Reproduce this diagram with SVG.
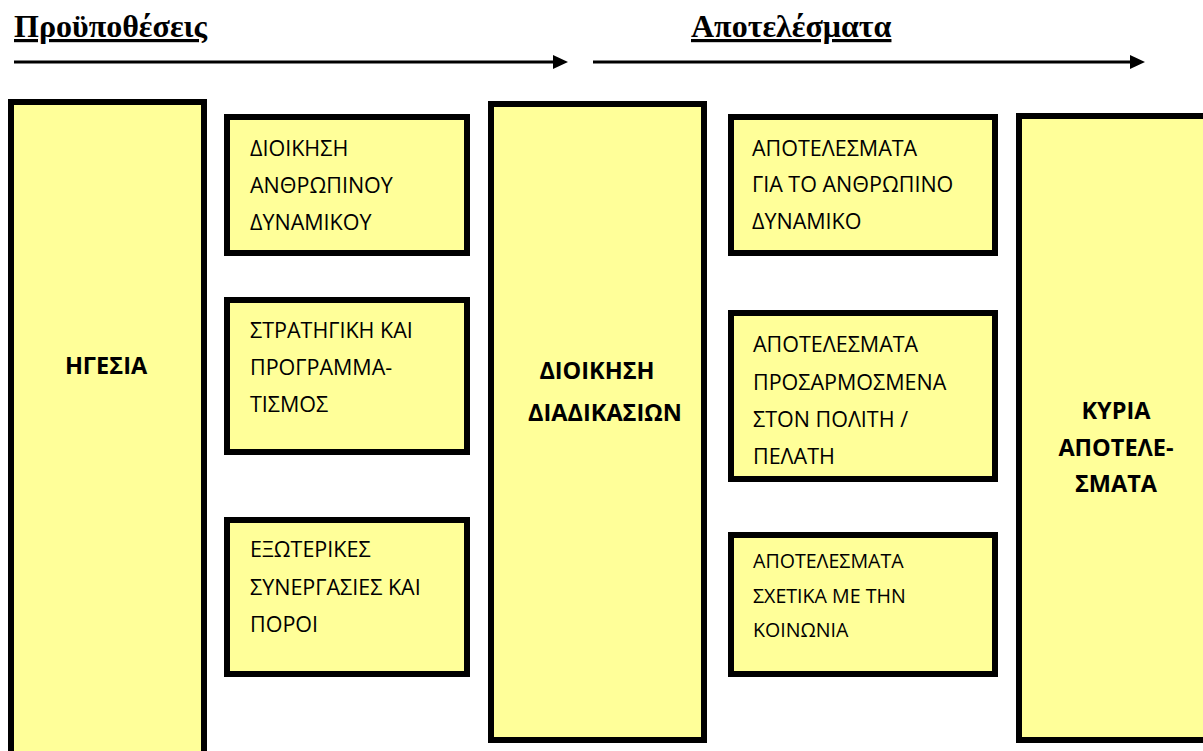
<svg xmlns="http://www.w3.org/2000/svg" width="1203" height="751" viewBox="0 0 1203 751">
  <style>
    .box { fill: #FFFF99; stroke: #000; stroke-width: 6; }
    .head { font-family: "Liberation Serif", "Times New Roman", serif; font-weight: bold; font-size: 32px; text-decoration: underline; fill: #000; }
    .lbl { font-family: "Open Sans", "Noto Sans", "DejaVu Sans", sans-serif; font-size: 21.5px; fill: #000; }
    .sm { font-size: 19.6px; }
    .big { font-family: "Open Sans", "Noto Sans", "DejaVu Sans", sans-serif; font-size: 23.5px; font-weight: bold; fill: #000; text-anchor: middle; }
    .arrow { stroke: #000; stroke-width: 3; fill: none; }
    .tip { fill: #000; }
  </style>

  <rect width="1203" height="751" fill="#fff"/>

  <!-- column headings -->
  <text class="head" x="14" y="37">Προϋποθέσεις</text>
  <text class="head" x="691" y="37">Αποτελέσματα</text>

  <!-- direction arrows -->
  <g id="connectors">
    <line class="arrow" x1="14" y1="62" x2="556" y2="62"/>
    <polygon class="tip" points="553,55 568,62 553,69"/>
    <line class="arrow" x1="593" y1="62" x2="1133" y2="62"/>
    <polygon class="tip" points="1130,55 1145,62 1130,69"/>
  </g>

  <g id="leadership">
    <rect class="box" x="11" y="102" width="193" height="670"/>
    <text class="big" x="106" y="374">ΗΓΕΣΙΑ</text>
  </g>

  <g id="hr-management">
    <rect class="box" x="227" y="117" width="240" height="136"/>
    <text class="lbl" x="250" y="156">ΔΙΟΙΚΗΣΗ</text>
    <text class="lbl" x="250" y="193">ΑΝΘΡΩΠΙΝΟΥ</text>
    <text class="lbl" x="250" y="230">ΔΥΝΑΜΙΚΟΥ</text>
  </g>

  <g id="strategy">
    <rect class="box" x="227" y="300" width="240" height="152"/>
    <text class="lbl" x="250" y="338">ΣΤΡΑΤΗΓΙΚΗ ΚΑΙ</text>
    <text class="lbl" x="250" y="375">ΠΡΟΓΡΑΜΜΑ-</text>
    <text class="lbl" x="250" y="412">ΤΙΣΜΟΣ</text>
  </g>

  <g id="partnerships">
    <rect class="box" x="227" y="520" width="240" height="154"/>
    <text class="lbl" x="250" y="557">ΕΞΩΤΕΡΙΚΕΣ</text>
    <text class="lbl" x="250" y="595">ΣΥΝΕΡΓΑΣΙΕΣ ΚΑΙ</text>
    <text class="lbl" x="250" y="632">ΠΟΡΟΙ</text>
  </g>

  <g id="process-management">
    <rect class="box" x="491" y="104" width="213" height="636"/>
    <text class="big" x="597" y="379">ΔΙΟΙΚΗΣΗ</text>
    <text class="big" x="605" y="421">ΔΙΑΔΙΚΑΣΙΩΝ</text>
  </g>

  <g id="people-results">
    <rect class="box" x="731" y="117" width="264" height="136"/>
    <text class="lbl" x="752" y="156">ΑΠΟΤΕΛΕΣΜΑΤΑ</text>
    <text class="lbl" x="752" y="192">ΓΙΑ ΤΟ ΑΝΘΡΩΠΙΝΟ</text>
    <text class="lbl" x="752" y="229">ΔΥΝΑΜΙΚΟ</text>
  </g>

  <g id="citizen-results">
    <rect class="box" x="731" y="313" width="264" height="166"/>
    <text class="lbl" x="753" y="352">ΑΠΟΤΕΛΕΣΜΑΤΑ</text>
    <text class="lbl" x="753" y="390">ΠΡΟΣΑΡΜΟΣΜΕΝΑ</text>
    <text class="lbl" x="753" y="427">ΣΤΟΝ ΠΟΛΙΤΗ /</text>
    <text class="lbl" x="753" y="464">ΠΕΛΑΤΗ</text>
  </g>

  <g id="society-results">
    <rect class="box" x="731" y="535" width="264" height="139"/>
    <text class="lbl sm" x="753" y="568">ΑΠΟΤΕΛΕΣΜΑΤΑ</text>
    <text class="lbl sm" x="753" y="603">ΣΧΕΤΙΚΑ ΜΕ ΤΗΝ</text>
    <text class="lbl sm" x="753" y="637">ΚΟΙΝΩΝΙΑ</text>
  </g>

  <g id="key-results">
    <rect class="box" x="1019" y="116" width="200" height="624"/>
    <text class="big" x="1116" y="419">ΚΥΡΙΑ</text>
    <text class="big" x="1116" y="456">ΑΠΟΤΕΛΕ-</text>
    <text class="big" x="1116" y="492">ΣΜΑΤΑ</text>
  </g>
</svg>
